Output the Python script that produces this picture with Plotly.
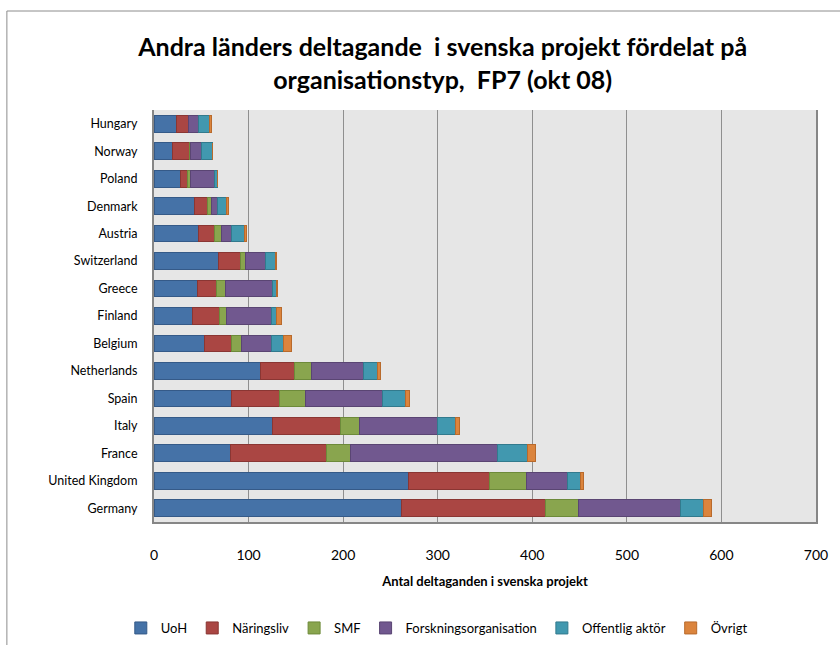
import plotly.graph_objects as go

# Countries, listed top to bottom
countries = ["Hungary", "Norway", "Poland", "Denmark", "Austria", "Switzerland",
             "Greece", "Finland", "Belgium", "Netherlands", "Spain", "Italy",
             "France", "United Kingdom", "Germany"]

# Participations per organisation type
uoh = [24, 20, 28, 43, 47, 68, 46, 41, 53, 113, 82, 125, 81, 269, 262]
naringsliv = [12, 18, 7, 14, 17, 23, 20, 28, 29, 36, 51, 72, 101, 86, 152]
smf = [1, 1, 4, 4, 7, 6, 10, 8, 11, 18, 27, 20, 26, 39, 35]
forskning = [10, 11, 25, 6, 11, 21, 49, 47, 31, 54, 82, 83, 155, 43, 108]
offentlig = [12, 12, 3, 10, 14, 10, 4, 6, 13, 15, 24, 19, 32, 14, 24]
ovrigt = [2, 0, 0, 2, 2, 2, 2, 5, 8, 3, 4, 4, 8, 3, 8]

series_names = ["UoH", "Näringsliv", "SMF", "Forskningsorganisation",
                "Offentlig aktör", "Övrigt"]
series_values = [uoh, naringsliv, smf, forskning, offentlig, ovrigt]

fill_colors = ["#4572A7", "#AA4643", "#89A54E", "#71588F", "#4198AF", "#DB843D"]
edge_colors = ["#355a88", "#8a3633", "#6d8a3a", "#5a4573", "#327a8d", "#b86a2c"]

FONT = "Lato, Roboto, sans-serif"

fig = go.Figure()
for name, vals, fc, ec in zip(series_names, series_values, fill_colors, edge_colors):
    fig.add_trace(go.Bar(
        y=countries, x=vals, name=name, orientation="h",
        marker=dict(color=fc, line=dict(color=ec, width=1)),
    ))

fig.update_layout(
    barmode="stack",
    bargap=0.39,
    width=840, height=645,
    margin=dict(l=154, r=20, t=110, b=123),
    paper_bgcolor="white",
    plot_bgcolor="#e6e6e6",
    font=dict(family=FONT, size=13, color="black"),
    title=dict(
        text="Andra länders deltagande  i svenska projekt fördelat på<br>organisationstyp,  FP7 (okt 08)",
        x=0.527, xanchor="center", xref="container",
        y=1 - 56 / 645, yanchor="middle", yref="container",
        font=dict(family=FONT, size=25, color="black", weight="bold"),
    ),
    legend=dict(
        orientation="h",
        xref="container", x=0.52, xanchor="center",
        yref="container", y=1 - 628 / 645, yanchor="middle",
        font=dict(family=FONT, size=13),
        traceorder="normal",
        itemwidth=30,
    ),
    xaxis=dict(
        range=[0, 700], dtick=100, tick0=0,
        showgrid=True, gridcolor="#8f8f8f", gridwidth=1,
        zeroline=False,
        showline=True, linecolor="#868686", linewidth=2,
        ticks="", ticklabelstandoff=19,
        tickfont=dict(family=FONT, size=14),
        title=dict(text="<b>Antal deltaganden i svenska projekt</b>",
                   font=dict(family=FONT, size=13), standoff=15),
    ),
    yaxis=dict(
        autorange="reversed",
        showgrid=False,
        showline=True, linecolor="#868686", linewidth=2, mirror=True,
        ticks="", ticklabelstandoff=12,
        tickfont=dict(family=FONT, size=12.5),
    ),
    shapes=[dict(
        type="rect", xref="paper", yref="paper",
        x0=(6 - 154) / 666, x1=(900 - 154) / 666,
        y0=-(700 - 522) / 412, y1=1 + (110 - 11) / 412,
        line=dict(color="#8c8c8c", width=1), fillcolor="rgba(0,0,0,0)",
        layer="below",
    )],
)

fig.write_html("out.html")
